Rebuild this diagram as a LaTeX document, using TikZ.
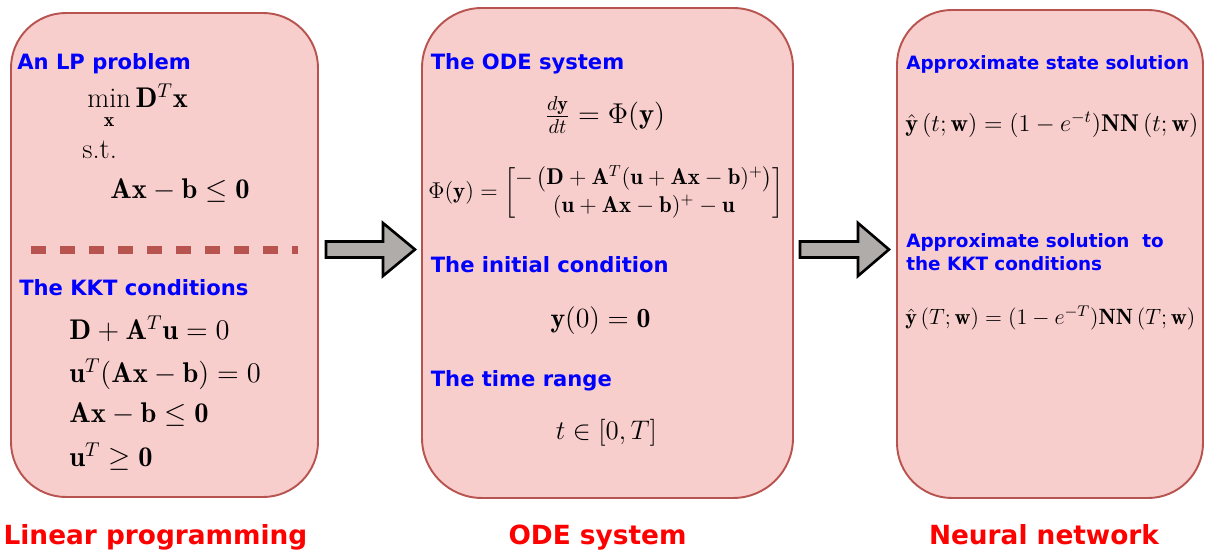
\RequirePackage{fix-cm}
\documentclass[tikz,border=0pt]{standalone}
\usepackage{amsmath}
\usepackage{fontspec}
\newfontfamily\labelfont{DejaVu Sans}
\definecolor{PanelFill}{HTML}{F8CECC}
\definecolor{PanelLine}{HTML}{B85450}
\definecolor{ArrowGray}{HTML}{B0ACA9}
\definecolor{HeadBlue}{HTML}{0000FF}
\definecolor{CapRed}{HTML}{FF0000}
\usetikzlibrary{calc, positioning}

\begin{document}
\begin{tikzpicture}[
   panel/.style={draw=PanelLine, fill=PanelFill, line width=1.1pt, rounded corners=1.1cm, inner sep=0pt},
   heading/.style={anchor=base west, inner sep=0pt, text=HeadBlue, font=\labelfont\bfseries\fontsize{12}{14.4}\selectfont},
   smallheading/.style={heading, font=\labelfont\bfseries\fontsize{10.45}{12.5}\selectfont},
   paneltitle/.style={anchor=base, inner sep=0pt, text=CapRed, font=\labelfont\bfseries\fontsize{15}{18}\selectfont},
   eqn/.style={inner sep=0pt, font=\fontsize{16.2}{19}\selectfont},
   sepline/.style={draw=PanelLine, line width=4pt, dash pattern=on 0.3cm off 0.28cm},
   blockarrow/.style={draw=black, fill=ArrowGray, line width=1.5pt, line join=miter}
]
   \useasboundingbox (0,0) rectangle (24.1,11);
   % Panels
   \node[panel, minimum width=6.14cm, minimum height=9.68cm] (lp) at (3.29,5.90) {};
   \node[panel, rounded corners=1.2cm, minimum width=7.42cm, minimum height=9.80cm] (ode) at (12.15,5.94) {};
   \node[panel, minimum width=6.12cm, minimum height=9.76cm] (nn) at (21.00,5.92) {};
   % Block arrows between the panels
   \draw[blockarrow] ($(lp.east)+(0.14,0.27)$) -- ++(1.14,0) -- ++(0,0.37) -- ++(0.64,-0.53)
      -- ++(-0.64,-0.53) -- ++(0,0.37) -- ++(-1.14,0) -- cycle;
   \draw[blockarrow] ($(ode.east)+(0.12,0.23)$) -- ++(1.16,0) -- ++(0,0.37) -- ++(0.62,-0.53)
      -- ++(-0.62,-0.53) -- ++(0,0.37) -- ++(-1.16,0) -- cycle;
   % LP problem
   \node[heading] (lphead) at (0.34,9.60) {An LP problem};
   \node[eqn, anchor=base west] (objective) at (1.74,8.84) {$\min\limits_{\mathbf{x}}\mathbf{D}^T\mathbf{x}$};
   \node[eqn, anchor=base west] (st) at (1.64,7.82) {s.t.};
   \node[eqn, anchor=base west] (constraint) at (2.20,7.02) {$\mathbf{Ax}-\mathbf{b}\leq\mathbf{0}$};
   \draw[sepline] (0.62,6.0) -- (5.96,6.0);
   % KKT conditions
   \node[heading] (kkthead) at (0.38,5.08) {The KKT conditions};
   \node[eqn, anchor=base west] (kkta) at (1.38,4.20) {$\mathbf{D}+\mathbf{A}^T\mathbf{u}=0$};
   \node[eqn, anchor=base west] (kktb) at (1.38,3.35) {$\mathbf{u}^T(\mathbf{Ax}-\mathbf{b})=0$};
   \node[eqn, anchor=base west] (kktc) at (1.38,2.55) {$\mathbf{Ax}-\mathbf{b}\leq\mathbf{0}$};
   \node[eqn, anchor=base west] (kktd) at (1.38,1.67) {$\mathbf{u}^T\geq\mathbf{0}$};
   % ODE system
   \node[heading] (odehead) at (8.61,9.60) {The ODE system};
   \node[eqn, anchor=base, font=\fontsize{16.3}{19}\selectfont] (odeeq) at (12.10,8.53) {$\frac{d\mathbf{y}}{dt}=\Phi(\mathbf{y})$};
   \node[eqn, font=\fontsize{13}{15.6}\selectfont] (phidef) at (12.12,7.14)
      {$\Phi(\mathbf{y})=\begin{bmatrix}-\,\bigl(\mathbf{D}+\mathbf{A}^T(\mathbf{u}+\mathbf{Ax}-\mathbf{b})^+\bigr)\\
      (\mathbf{u}+\mathbf{Ax}-\mathbf{b})^+-\mathbf{u}\end{bmatrix}$};
   \node[heading] (inithead) at (8.61,5.54) {The initial condition};
   \node[eqn, anchor=base, font=\fontsize{15.8}{19}\selectfont] (initeq) at (12.01,4.45) {$\mathbf{y}(0)=\mathbf{0}$};
   \node[heading] (timehead) at (8.61,3.27) {The time range};
   \node[eqn, anchor=base, font=\fontsize{15.3}{18}\selectfont] (timeeq) at (12.13,2.20) {$t\in[0,T]$};
   % Neural network
   \node[smallheading] (statehead) at (18.12,9.60) {Approximate state solution};
   \node[eqn, anchor=base west, font=\fontsize{13.8}{16.5}\selectfont] (stateeq) at (18.10,8.37)
      {$\hat{\mathbf{y}}\left(t;\mathbf{w}\right)=(1-e^{-t})\mathbf{NN}\left(t;\mathbf{w}\right)$};
   \node[smallheading] (solhead) at (18.12,6.05) {Approximate solution~ to};
   \node[smallheading] (solheadb) at (18.12,5.59) {the KKT conditions};
   \node[eqn, anchor=base west, font=\fontsize{12.6}{15}\selectfont] (soleq) at (18.10,4.50)
      {$\hat{\mathbf{y}}\left(T;\mathbf{w}\right)=(1-e^{-T})\mathbf{NN}\left(T;\mathbf{w}\right)$};
   % Captions
   \node[paneltitle] (lpcap) at (3.11,0.10) {Linear programming};
   \node[paneltitle] (odecap) at (11.95,0.10) {ODE system};
   \node[paneltitle] (nncap) at (20.88,0.10) {Neural network};
\end{tikzpicture}
\end{document}
